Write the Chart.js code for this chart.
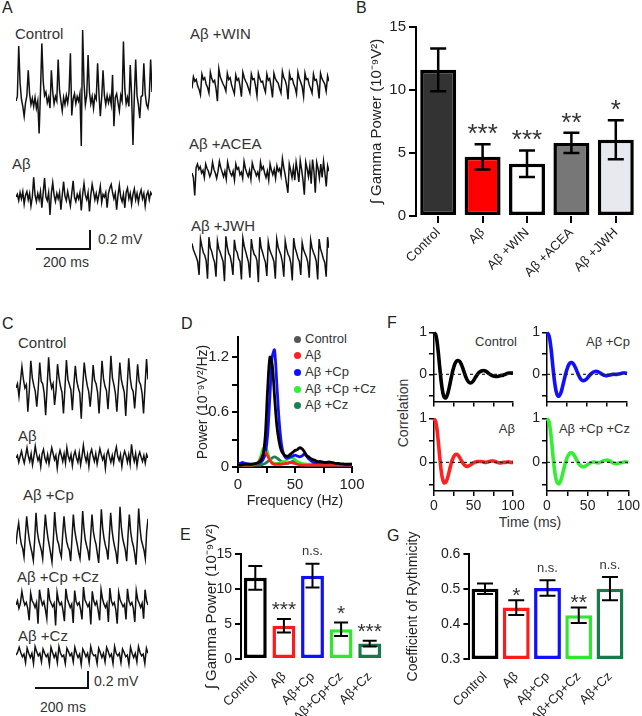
<!DOCTYPE html>
<html><head><meta charset="utf-8">
<script src="https://cdn.jsdelivr.net/npm/chart.js@4.4.1/dist/chart.umd.min.js"></script>
<style>
html,body{margin:0;padding:0;background:#fff}
body{width:642px;height:716px;position:relative;overflow:hidden;font-family:"Liberation Sans",Arial,sans-serif;color:#333}
.t{position:absolute;white-space:nowrap;line-height:1;font-size:15px}
.p{font-size:16px;color:#222}
.s{font-size:14px}
.l{font-size:13px}
canvas{position:absolute}
.bar{position:absolute;background:#111}
.rot{position:absolute;white-space:nowrap;line-height:1;transform:translate(-50%,-50%) rotate(-90deg)}
.dot{position:absolute;width:7px;height:7px;border-radius:50%}
</style></head><body>
<div class="t p" style="left:2px;top:0px">A</div>
<div class="t p" style="left:356px;top:0px">B</div>
<div class="t p" style="left:2px;top:316px">C</div>
<div class="t p" style="left:181px;top:316px">D</div>
<div class="t p" style="left:180px;top:527px">E</div>
<div class="t p" style="left:387px;top:315px">F</div>
<div class="t p" style="left:387px;top:528px">G</div>

<div class="t" style="left:15px;top:26px">Control</div>
<div class="t" style="left:12px;top:156px">Aβ</div>
<div class="t" style="left:190px;top:26px">Aβ +WIN</div>
<div class="t" style="left:189px;top:136px">Aβ +ACEA</div>
<div class="t" style="left:191px;top:218px">Aβ +JWH</div>
<div class="bar" style="left:36px;top:248px;width:55px;height:2px"></div>
<div class="bar" style="left:89px;top:230px;width:2px;height:20px"></div>
<div class="t s" style="left:98px;top:232px">0.2 mV</div>
<div class="t s" style="left:43px;top:255px">200 ms</div>

<div class="t" style="left:18px;top:335px">Control</div>
<div class="t" style="left:18px;top:428px">Aβ</div>
<div class="t" style="left:23px;top:487px">Aβ +Cp</div>
<div class="t" style="left:17px;top:569px">Aβ +Cp +Cz</div>
<div class="t" style="left:18px;top:628px">Aβ +Cz</div>
<div class="bar" style="left:35px;top:687px;width:54px;height:2px"></div>
<div class="bar" style="left:87px;top:671px;width:2px;height:18px"></div>
<div class="t s" style="left:94px;top:674px">0.2 mV</div>
<div class="t s" style="left:40px;top:700px">200 ms</div>

<div id="legend"></div>

<div class="t l" style="right:125px;top:335px">Control</div>
<div class="t l" style="right:12px;top:335px">Aβ +Cp</div>
<div class="t l" style="right:127px;top:422px">Aβ</div>
<div class="t l" style="right:12px;top:422px">Aβ +Cp +Cz</div>
<div class="rot" style="left:403px;top:413px;font-size:14px">Correlation</div>
<div class="t s" style="left:530px;top:515px;transform:translateX(-50%)">Time (ms)</div>

<script>
// ---------------- DATA ----------------
// Panel A traces (mV, 500 ms sweeps)
const aControl = [0.0,0.05,0.61,0.2,0.02,-0.06,-0.17,-0.02,0.06,0.34,0.08,-0.04,0.03,-0.06,0.04,-0.08,0.0,-0.36,0.1,0.64,0.22,0.06,0.1,-0.02,0.04,-0.08,0.34,0.1,-0.03,0.05,0.0,0.46,0.12,0.0,-0.11,0.04,-0.04,0.06,-0.02,0.1,0.53,-0.16,0.02,0.08,-0.03,0.05,0.0,0.08,-0.5,0.79,0.2,-0.04,0.06,0.51,0.1,-0.03,0.05,-0.08,0.06,0.02,0.42,0.08,-0.17,0.04,0.34,0.06,-0.04,0.06,-0.02,0.05,-0.04,0.29,-0.28,0.04,0.08,-0.02,-0.11,0.06,0.0,0.66,0.14,-0.03,0.04,-0.06,0.4,0.06,-0.49,0.05,0.46,0.06,-0.04,-0.19,0.05,0.06,0.42,0.08,-0.04,-0.08,0.05,0.46,0.1];
const aAb = [0.0,0.03,-0.04,0.05,-0.02,0.06,-0.08,0.02,0.06,-0.03,0.04,-0.1,0.0,0.22,0.02,-0.05,0.04,-0.03,0.06,-0.12,0.05,0.21,0.0,-0.04,0.05,-0.2,0.04,0.16,0.02,-0.05,0.04,-0.02,0.05,-0.14,0.02,0.17,0.01,-0.04,0.06,-0.02,-0.1,0.04,0.18,0.0,-0.05,0.03,-0.02,0.05,-0.15,0.03,0.15,0.02,-0.03,0.05,-0.16,0.02,0.14,0.06,-0.03,0.04,-0.05,0.03,0.12,-0.06,0.03,0.0,0.05,-0.12,0.04,0.1,0.14,0.05,-0.02,0.04,-0.14,0.02,0.13,0.0,-0.05,0.03,-0.12,0.05,0.1,-0.02,0.04,-0.08,0.03,0.09,-0.03,0.04,-0.06,0.03,0.08,-0.02,0.04,-0.1,0.02,0.06,-0.03,0.05,0.02];
const aWin = [-0.05,0.08,0.03,0.05,-0.02,-0.06,-0.12,0.11,0.05,0.07,0.0,-0.04,-0.1,0.13,0.06,0.02,0.04,-0.05,-0.19,0.17,0.08,0.04,0.0,-0.03,-0.08,0.12,0.05,0.07,-0.01,-0.06,-0.11,0.1,0.04,0.06,-0.02,-0.14,0.13,0.07,0.03,0.0,-0.05,-0.1,0.11,0.05,0.06,-0.02,-0.13,0.12,0.06,0.02,0.03,-0.04,-0.09,0.11,0.04,0.06,-0.03,-0.15,0.12,0.06,0.03,0.01,-0.05,-0.1,0.14,0.07,0.04,-0.02,-0.17,0.12,0.05,0.06,0.0,-0.04,-0.11,0.13,0.06,0.02,-0.03,-0.14,0.12,0.05,0.06,-0.01,-0.05,-0.1,0.11,0.04,0.05,-0.02,-0.16,0.12,0.06,0.03,0.0,-0.08,0.09,0.03];
const aAcea = [0.0,-0.05,-0.25,0.06,0.1,0.04,0.07,0.0,0.03,-0.05,0.1,0.05,0.02,-0.04,0.0,0.12,0.04,0.0,-0.06,0.02,0.13,0.06,0.01,-0.04,0.02,-0.07,0.12,0.05,0.0,-0.03,0.02,-0.08,0.1,0.04,0.06,-0.02,0.01,-0.06,0.13,0.05,0.0,-0.04,0.03,-0.07,0.11,0.05,0.02,-0.03,0.01,-0.06,0.12,0.04,0.07,0.0,-0.05,0.02,-0.08,0.1,0.03,-0.02,0.04,-0.06,0.08,0.02,0.05,-0.03,0.16,0.06,-0.02,-0.12,-0.22,0.1,0.03,-0.05,0.06,-0.08,0.12,0.02,-0.1,0.14,0.04,-0.08,-0.24,0.12,0.05,-0.04,0.08,-0.12,0.15,0.02,-0.22,0.12,0.05,-0.06,0.1,-0.05,0.13,0.0,-0.15,0.08,0.02];
const aJwh = [0.15,0.08,0.04,0.0,-0.05,-0.2,0.2,0.12,0.05,0.02,-0.04,-0.24,0.22,0.1,0.06,-0.01,-0.06,-0.22,0.18,0.09,0.05,0.0,-0.05,-0.27,0.23,0.11,0.04,0.01,-0.07,-0.2,0.19,0.08,0.05,-0.02,-0.05,-0.25,0.21,0.12,0.06,0.0,-0.06,-0.23,0.2,0.09,0.03,0.01,-0.04,-0.28,0.22,0.1,0.05,-0.01,-0.06,-0.21,0.17,0.08,0.04,0.0,-0.05,-0.24,0.2,0.11,0.06,0.02,-0.06,-0.22,0.18,0.09,0.03,0.0,-0.07,-0.26,0.21,0.1,0.05,-0.01,-0.05,-0.2,0.16,0.08,0.04,0.0,-0.06,-0.23,0.19,0.1,0.05,0.01,-0.05,-0.25,0.2,0.09,0.04,-0.02,-0.06,-0.22,0.22,0.1];
// Panel C traces (mV)
const cControl = [0.0,0.05,-0.1,0.08,0.25,0.1,0.0,0.04,-0.28,-0.02,0.32,0.12,0.03,-0.04,-0.22,0.0,0.3,0.08,0.05,-0.06,-0.32,0.02,0.36,0.1,0.0,0.05,-0.2,-0.03,0.28,0.12,0.02,-0.05,-0.3,0.0,0.33,0.1,0.04,-0.02,-0.26,0.03,0.26,0.08,0.0,-0.06,-0.36,0.02,0.3,0.14,0.03,-0.04,-0.22,-0.02,0.27,0.09,0.05,-0.05,-0.3,0.0,0.32,0.11,0.02,-0.03,-0.25,0.02,0.38,0.12,0.04,-0.06,-0.28,0.0,0.3,0.1,0.02,-0.05,-0.33,0.03,0.35,0.12,0.0,-0.04,-0.24,0.0,0.28,0.08,0.04,-0.06,-0.3,0.02,0.34,0.1];
const cAb = [0.0,0.03,-0.05,0.02,0.08,0.0,-0.06,0.03,0.12,0.02,-0.04,0.05,-0.08,0.02,0.14,0.04,-0.03,0.02,-0.1,0.05,0.1,0.0,-0.05,0.04,-0.07,0.03,0.12,0.05,-0.02,0.03,-0.12,0.02,0.09,0.03,-0.04,0.05,-0.06,0.12,0.02,-0.03,0.04,-0.09,0.03,0.08,0.0,-0.05,0.06,-0.08,0.02,0.15,0.03,-0.04,0.04,-0.1,0.05,0.1,0.02,-0.04,0.05,-0.07,0.02,0.11,0.04,-0.02,0.03,-0.12,0.04,0.09,0.01,-0.05,0.03,-0.06,0.06,0.13,0.02,-0.03,0.04,-0.1,0.02,0.08,0.03,-0.05,0.04,-0.07,0.16,0.03,-0.04,0.05,-0.09,0.02,0.07,0.01,-0.04,0.03,-0.06,0.04,0.0];
const cCp = [-0.05,0.1,0.2,0.05,-0.05,-0.1,-0.2,0.05,0.28,0.12,0.0,-0.08,-0.15,-0.24,0.0,0.32,0.1,0.0,-0.06,-0.12,-0.22,0.04,0.3,0.14,0.02,-0.07,-0.16,-0.26,0.0,0.33,0.12,0.0,-0.05,-0.14,-0.2,0.06,0.28,0.1,-0.02,-0.08,-0.12,-0.25,0.02,0.3,0.12,0.02,-0.06,-0.15,-0.22,0.0,0.34,0.13,0.0,-0.07,-0.13,-0.24,0.05,0.3,0.1,0.01,-0.05,-0.16,-0.27,0.0,0.36,0.14,0.02,-0.06,-0.12,-0.23,0.04,0.32,0.12,0.0,-0.08,-0.15,-0.28,0.0,0.39,0.15,0.02,-0.05,-0.12,-0.25,0.05,0.3,0.1,-0.01,-0.07,-0.16,-0.29,0.0,0.37,0.14,0.0,-0.06,-0.12,-0.22,0.1,0.25];
const cCpCz = [0.0,0.05,-0.04,0.02,0.16,0.06,0.0,0.03,-0.04,-0.18,0.14,0.05,0.02,-0.03,0.03,-0.22,0.18,0.07,0.0,0.04,-0.05,-0.16,0.2,0.06,0.02,-0.02,0.02,-0.24,0.15,0.05,0.0,0.03,-0.06,-0.19,0.19,0.07,0.02,-0.03,0.01,-0.21,0.17,0.04,0.0,0.03,-0.05,-0.17,0.21,0.06,0.02,-0.02,0.02,-0.23,0.16,0.05,0.0,0.04,-0.06,-0.18,0.18,0.07,0.01,-0.03,0.02,-0.2,0.2,0.05,0.0,0.03,-0.05,-0.22,0.15,0.06,0.02,-0.02,0.01,-0.17,0.19,0.05,0.0,0.03,-0.04,-0.2,0.17,0.06,0.02,-0.03,0.02,-0.16,0.18,0.05,0.0];
const cCz = [0.0,0.03,0.09,0.03,-0.02,0.01,-0.09,0.08,0.02,-0.03,0.02,-0.1,0.1,0.04,-0.01,0.02,-0.08,0.07,0.02,-0.02,0.01,-0.11,0.09,0.03,-0.03,0.02,-0.09,0.1,0.02,-0.02,0.0,-0.1,0.08,0.04,-0.01,0.02,-0.08,0.09,0.02,-0.03,0.01,-0.11,0.07,0.03,-0.02,0.02,-0.09,0.1,0.02,-0.01,0.0,-0.1,0.08,0.03,-0.03,0.02,-0.08,0.09,0.04,-0.02,0.01,-0.1,0.1,0.02,-0.01,0.02,-0.09,0.07,0.03,-0.02,0.0,-0.11,0.09,0.02,-0.03,0.02,-0.08,0.1,0.03,-0.01,0.01,-0.1,0.08,0.02];

// Panel B
const bCategories = ['Control','Aβ','Aβ +WIN','Aβ +ACEA','Aβ +JWH'];
const bMeans = [11.6, 4.7, 4.15, 5.8, 6.05];
const bSem = [1.7, 1.0, 1.05, 0.8, 1.55];
const bMarks = ['', '***', '***', '**', '*'];

// Panel D (power spectra, 0-100 Hz, 2 Hz bins)
const dSeriesNames = ['Control','Aβ','Aβ +Cp','Aβ +Cp +Cz','Aβ +Cz'];
const dControl = [0.02,0.02,0.025,0.03,0.03,0.03,0.03,0.035,0.04,0.05,0.07,0.13,0.35,0.85,1.2,1.12,0.78,0.46,0.28,0.18,0.14,0.12,0.12,0.14,0.16,0.18,0.19,0.21,0.2,0.17,0.13,0.11,0.09,0.08,0.07,0.06,0.06,0.055,0.05,0.05,0.055,0.05,0.045,0.04,0.04,0.035,0.035,0.03,0.03,0.03,0.03];
const dAb = [0.02,0.02,0.02,0.02,0.02,0.02,0.02,0.025,0.03,0.05,0.09,0.14,0.16,0.12,0.07,0.04,0.03,0.03,0.03,0.03,0.035,0.04,0.045,0.05,0.045,0.04,0.03,0.025,0.02,0.02,0.02,0.02,0.02,0.02,0.02,0.02,0.02,0.02,0.02,0.02,0.02,0.02,0.02,0.02,0.02,0.02,0.02,0.02,0.02,0.02,0.02];
const dCp = [0.03,0.04,0.05,0.04,0.035,0.03,0.03,0.03,0.035,0.04,0.05,0.08,0.15,0.35,0.78,1.2,1.28,0.92,0.52,0.26,0.14,0.1,0.1,0.11,0.12,0.13,0.12,0.11,0.12,0.14,0.12,0.09,0.07,0.05,0.04,0.04,0.035,0.03,0.03,0.03,0.03,0.025,0.025,0.025,0.02,0.02,0.02,0.02,0.02,0.02,0.02];
const dCpCz = [0.02,0.02,0.02,0.02,0.02,0.02,0.02,0.025,0.035,0.06,0.12,0.2,0.22,0.16,0.08,0.05,0.04,0.04,0.04,0.05,0.06,0.07,0.09,0.1,0.1,0.08,0.06,0.05,0.04,0.035,0.03,0.03,0.03,0.03,0.03,0.03,0.03,0.03,0.03,0.03,0.03,0.03,0.03,0.03,0.03,0.03,0.03,0.03,0.03,0.03,0.03];
const dCz = [0.02,0.02,0.02,0.02,0.02,0.02,0.02,0.02,0.02,0.02,0.02,0.03,0.04,0.06,0.08,0.1,0.11,0.1,0.08,0.06,0.045,0.04,0.04,0.05,0.06,0.055,0.045,0.035,0.03,0.025,0.02,0.02,0.02,0.02,0.02,0.02,0.02,0.02,0.02,0.02,0.02,0.02,0.02,0.02,0.02,0.02,0.02,0.02,0.02,0.02,0.02];

// Panel E
const eCategories = ['Control','Aβ','Aβ+Cp','Aβ+Cp+Cz','Aβ+Cz'];
const eMeans = [11.6, 4.75, 11.9, 4.25, 2.2];
const eSem = [1.7, 0.95, 1.7, 0.95, 0.4];
const eMarks = ['', '***', 'n.s.', '*', '***'];

// Panel F (autocorrelation, 0-100 ms, 2.5 ms lags)
const fControl = [1.0,0.93,0.6,0.12,-0.3,-0.53,-0.56,-0.45,-0.25,-0.02,0.17,0.29,0.33,0.31,0.22,0.09,-0.05,-0.15,-0.2,-0.2,-0.15,-0.07,0.0,0.05,0.08,0.09,0.08,0.05,0.01,-0.02,-0.04,-0.05,-0.05,-0.04,-0.03,-0.02,0.0,0.02,0.03,0.03,0.03];
const fAb = [1.0,0.9,0.55,0.08,-0.3,-0.46,-0.45,-0.33,-0.15,0.02,0.13,0.18,0.17,0.11,0.03,-0.04,-0.08,-0.09,-0.07,-0.04,-0.01,0.01,0.02,0.02,0.02,0.01,0.0,0.01,0.02,0.03,0.03,0.02,0.0,-0.01,-0.01,0.0,0.0,0.01,0.01,0.0,0.0];
const fCp = [1.0,0.92,0.62,0.15,-0.25,-0.48,-0.52,-0.43,-0.25,-0.05,0.12,0.24,0.28,0.26,0.18,0.07,-0.04,-0.12,-0.15,-0.14,-0.1,-0.04,0.01,0.05,0.07,0.07,0.05,0.02,-0.01,-0.03,-0.03,-0.02,-0.01,0.0,0.0,0.0,0.01,0.02,0.03,0.03,0.02];
const fCpCz = [1.0,0.92,0.6,0.12,-0.27,-0.46,-0.48,-0.38,-0.2,-0.02,0.12,0.2,0.22,0.19,0.11,0.02,-0.05,-0.09,-0.1,-0.08,-0.05,-0.02,0.0,0.01,0.0,-0.01,0.0,0.02,0.04,0.05,0.05,0.03,0.0,-0.02,-0.03,-0.02,-0.01,0.0,0.01,0.01,0.0];

// Panel G
const gCategories = ['Control','Aβ','Aβ+Cp','Aβ+Cp+Cz','Aβ+Cz'];
const gMeans = [0.501, 0.447, 0.503, 0.425, 0.501];
const gSem = [0.015, 0.021, 0.022, 0.022, 0.033];
const gMarks = ['', '*', 'n.s.', '**', 'n.s.'];

// ---------------- DRAWING ----------------
const FF = '"Liberation Sans", Arial, sans-serif';
const TXT = '#222';
Chart.defaults.font.family = FF;
Chart.defaults.color = TXT;

function addCanvas(l, t, w, h) {
  const c = document.createElement('canvas');
  c.width = w; c.height = h;
  c.style.left = l + 'px'; c.style.top = t + 'px';
  c.style.width = w + 'px'; c.style.height = h + 'px';
  document.body.appendChild(c);
  return c;
}

function makeChart(l, t, w, h, cfg, area) {
  const c = addCanvas(l, t, w, h);
  const pad = {left: 0, right: 0, top: 0, bottom: 0};
  cfg.options = Object.assign({responsive: false, maintainAspectRatio: false, animation: false, events: [], devicePixelRatio: 1}, cfg.options || {});
  cfg.options.layout = {padding: Object.assign({}, pad)};
  cfg.options.plugins = Object.assign({legend: {display: false}, tooltip: {enabled: false}}, cfg.options.plugins || {});
  const ch = new Chart(c.getContext('2d'), cfg);
  if (area) {
    for (let k = 0; k < 4; k++) {
      const ca = ch.chartArea;
      pad.left += (area.l - l) - ca.left;
      pad.top += (area.t - t) - ca.top;
      pad.right += ca.right - (area.r - l);
      pad.bottom += ca.bottom - (area.b - t);
      ch.options.layout.padding = Object.assign({}, pad);
      ch.update('none');
    }
  }
  return ch;
}

function trace(values, left, right, baseline, pxPerMv) {
  const w = right - left, h = 160;
  const dt = 500 / (values.length - 1);
  makeChart(left, baseline - h / 2, w, h, {
    type: 'line',
    data: {datasets: [{data: values.map((v, i) => ({x: i * dt, y: v})), borderColor: '#111', borderWidth: 1.5, pointRadius: 0, tension: 0, clip: false}]},
    options: {scales: {
      x: {type: 'linear', min: 0, max: 500, display: false},
      y: {min: -h / 2 / pxPerMv, max: h / 2 / pxPerMv, display: false}
    }}
  });
}

trace(aControl, 16, 152, 101, 90);
trace(aAb, 16, 152, 197, 90);
trace(aWin, 192, 329, 84, 90);
trace(aAcea, 192, 329, 173, 90);
trace(aJwh, 192, 329, 257, 90);
trace(cControl, 16, 148, 388, 85);
trace(cAb, 16, 148, 458, 85);
trace(cCp, 16, 148, 540, 85);
trace(cCpCz, 16, 148, 605, 85);
trace(cCz, 16, 148, 655, 85);

function errPlugin(means, sem, marks, st) {
  return {
    id: 'err',
    afterDatasetsDraw(chart) {
      const ctx = chart.ctx, meta = chart.getDatasetMeta(0), y = chart.scales.y;
      ctx.save();
      means.forEach((m, i) => {
        const x = meta.data[i].x;
        const hi = y.getPixelForValue(m + sem[i]), lo = y.getPixelForValue(m - sem[i]);
        ctx.strokeStyle = '#000'; ctx.lineWidth = st.lw; ctx.lineCap = 'butt';
        ctx.beginPath();
        ctx.moveTo(x, hi); ctx.lineTo(x, lo);
        ctx.moveTo(x - st.cap, hi); ctx.lineTo(x + st.cap, hi);
        ctx.moveTo(x - st.cap, lo); ctx.lineTo(x + st.cap, lo);
        ctx.stroke();
        const mk = marks[i];
        if (mk) {
          ctx.fillStyle = '#333'; ctx.textAlign = 'center'; ctx.textBaseline = 'alphabetic';
          if (mk.indexOf('*') >= 0) {
            ctx.font = st.starSize + 'px ' + FF;
            ctx.fillText(mk, x, hi - st.starGap + 0.57 * st.starSize);
          } else {
            ctx.font = st.nsSize + 'px ' + FF;
            ctx.fillText(mk, x, hi - st.nsGap + 0.26 * st.nsSize);
          }
        }
      });
      ctx.restore();
    }
  };
}

function yTitle(text, size, centerX, areaLeft, axisW) {
  return {display: true, text: text, color: TXT, font: {size: size, family: FF},
    padding: {top: centerX - (areaLeft - axisW) - size * 0.6, bottom: 0}};
}

// ---- Panel B ----
const bFill = ['#333333', '#ff0000', '#ffffff', '#777777', '#e8e9ee'];
makeChart(330, 0, 312, 320, {
  type: 'bar',
  data: {labels: bCategories, datasets: [{data: bMeans, backgroundColor: bFill, borderColor: '#000', borderWidth: 3.5, borderSkipped: false, barPercentage: 0.81, categoryPercentage: 1}]},
  options: {scales: {
    x: {grid: {display: true, drawOnChartArea: false, offset: false, color: '#000', lineWidth: 2, tickLength: 7}, border: {display: false},
        ticks: {font: {size: 13}, minRotation: 45, maxRotation: 45, autoSkip: false, padding: 2}, afterFit: s => { s.height = 90; }},
    y: {min: 0, max: 15, ticks: {stepSize: 5, font: {size: 15}, padding: 3},
        grid: {drawOnChartArea: false, color: '#000', lineWidth: 2, tickLength: 7}, border: {display: true, color: '#000', width: 2},
        title: yTitle('∫ Gamma Power (10⁻⁹V²)', 15, 377, 416, 60), afterFit: s => { s.width = 60; }}
  }},
  plugins: [errPlugin(bMeans, bSem, bMarks, {lw: 2.5, cap: 8, starSize: 26, starGap: 17, nsSize: 13, nsGap: 12})]
}, {l: 416, r: 638, t: 27, b: 216});

// ---- Panel D ----
const dColors = ['#000000', '#ff2020', '#1010ff', '#33ee33', '#1e8050'];
const dLegendColors = ['#555555', '#ff2020', '#1010ff', '#33ee33', '#1e8050'];
const dAll = [dControl, dAb, dCp, dCpCz, dCz];
makeChart(180, 325, 200, 195, {
  type: 'line',
  data: {datasets: dAll.map((arr, k) => ({label: dSeriesNames[k], data: arr.map((v, i) => ({x: i * 2, y: v})), borderColor: dColors[k], borderWidth: 2.8, pointRadius: 0, tension: 0.3, clip: false}))},
  options: {scales: {
    x: {type: 'linear', min: 0, max: 100, ticks: {stepSize: 25, font: {size: 15}, padding: 3, maxRotation: 0, autoSkip: false, callback: v => (v % 50 === 0 ? v : '')},
        grid: {drawOnChartArea: false, color: '#000', lineWidth: 2, tickLength: 6}, border: {color: '#000', width: 2},
        title: {display: true, text: 'Frequency (Hz)', color: TXT, font: {size: 14}, padding: {top: 0, bottom: 2}}, afterFit: s => { s.height = 45; }},
    y: {min: 0, max: 1.42, ticks: {stepSize: 0.3, includeBounds: false, font: {size: 15}, padding: 3,
          callback: v => { const r = Math.round(v * 10) / 10; return (r === 0 || r === 0.6 || r === 1.2) ? String(r) : ''; }},
        grid: {drawOnChartArea: false, color: '#000', lineWidth: 2, tickLength: 6}, border: {color: '#000', width: 2},
        title: yTitle('Power (10⁻⁹V²/Hz)', 14, 203, 238, 45), afterFit: s => { s.width = 45; }}
  }}
}, {l: 238, r: 352, t: 337, b: 467});

// D legend (HTML)
(function () {
  const lg = document.getElementById('legend');
  const ys = [339, 355, 372, 389, 405];
  dSeriesNames.forEach((n, k) => {
    const d = document.createElement('div'); d.className = 'dot';
    d.style.left = '294px'; d.style.top = (ys[k] - 3.5) + 'px'; d.style.background = dLegendColors[k];
    lg.appendChild(d);
    const t = document.createElement('div'); t.className = 't l';
    t.style.left = '305px'; t.style.top = (ys[k] - 7) + 'px'; t.textContent = n; t.style.color = '#333';
    lg.appendChild(t);
  });
})();

// ---- Panel E ----
const eColors = ['#000000', '#ff1a1a', '#1010ff', '#2de82d', '#18794a'];
makeChart(180, 520, 215, 196, {
  type: 'bar',
  data: {labels: eCategories, datasets: [{data: eMeans, backgroundColor: '#ffffff', borderColor: eColors, borderWidth: 3.5, borderSkipped: false, barPercentage: 0.8, categoryPercentage: 1}]},
  options: {scales: {
    x: {grid: {display: false}, border: {display: false},
        ticks: {font: {size: 13}, minRotation: 45, maxRotation: 45, autoSkip: false, padding: 2}, afterFit: s => { s.height = 57; }},
    y: {min: 0, max: 15, ticks: {stepSize: 5, font: {size: 14}, padding: 3},
        grid: {drawOnChartArea: false, color: '#000', lineWidth: 2, tickLength: 6}, border: {display: true, color: '#000', width: 2},
        title: yTitle('∫ Gamma Power (10⁻⁹V²)', 15, 212, 241, 45), afterFit: s => { s.width = 45; }}
  }},
  plugins: [errPlugin(eMeans, eSem, eMarks, {lw: 2, cap: 7, starSize: 21, starGap: 15, nsSize: 13, nsGap: 12})]
}, {l: 241, r: 384, t: 554, b: 659});

// ---- Panel G ----
const gColors = ['#000000', '#ff1a1a', '#1010ff', '#2de82d', '#18794a'];
const gAxisMin = 0.3;
makeChart(390, 520, 252, 196, {
  type: 'bar',
  data: {labels: gCategories, datasets: [{data: gMeans.map(v => [gAxisMin, v]), backgroundColor: '#ffffff', borderColor: gColors, borderWidth: 3.5, borderSkipped: false, barPercentage: 0.86, categoryPercentage: 1}]},
  options: {scales: {
    x: {grid: {display: false}, border: {display: false},
        ticks: {font: {size: 13}, minRotation: 45, maxRotation: 45, autoSkip: false, padding: 2}, afterFit: s => { s.height = 57; }},
    y: {min: 0.3, max: 0.6, ticks: {stepSize: 0.1, font: {size: 14}, padding: 3, callback: v => v.toFixed(1)},
        grid: {drawOnChartArea: false, color: '#000', lineWidth: 2, tickLength: 6}, border: {display: true, color: '#000', width: 2},
        title: yTitle('Coefficient of Rythmicity', 14, 413, 469.4, 70), afterFit: s => { s.width = 70; }}
  }},
  plugins: [errPlugin(gMeans, gSem, gMarks, {lw: 2, cap: 8, starSize: 21, starGap: 10.5, nsSize: 13, nsGap: 11.5})]
}, {l: 469.4, r: 625.6, t: 554, b: 659});

// ---- Panel F ----
function corrPlot(values, color, l, t, w, h, area, showX) {
  const dt = 100 / (values.length - 1);
  makeChart(l, t, w, h, {
    type: 'line',
    data: {datasets: [
      {data: [{x: 0, y: 0}, {x: 100, y: 0}], borderColor: '#222', borderWidth: 1.2, borderDash: [3, 3], pointRadius: 0},
      {data: values.map((v, i) => ({x: i * dt, y: v})), borderColor: color, borderWidth: 3.6, pointRadius: 0, tension: 0.4, clip: false}
    ]},
    options: {scales: {
      x: {type: 'linear', min: 0, max: 100,
          ticks: {display: showX, stepSize: 25, font: {size: 14}, padding: 2, maxRotation: 0, autoSkip: false, callback: v => (v % 50 === 0 ? v : '')},
          grid: {drawOnChartArea: false, color: '#000', lineWidth: 1.5, tickLength: 5}, border: {color: '#000', width: 1.5},
          afterFit: s => { s.height = showX ? 25 : 8; }},
      y: {min: -0.65, max: 1, ticks: {stepSize: 0.5, includeBounds: false, font: {size: 14}, padding: 2,
            callback: v => (Math.abs(v) < 1e-9 ? '0' : (Math.abs(v - 1) < 1e-9 ? '1' : ''))},
          grid: {drawOnChartArea: false, color: '#000', lineWidth: 1.5, tickLength: 5}, border: {color: '#000', width: 1.5},
          afterFit: s => { s.width = 22; }}
    }}
  }, area);
}
corrPlot(fControl, '#000000', 405, 322, 118, 90, {l: 434, r: 513, t: 332, b: 405}, false);
corrPlot(fCp, '#1010ff', 518, 322, 124, 90, {l: 547, r: 627, t: 332, b: 405}, false);
corrPlot(fAb, '#ff2020', 405, 408, 130, 108, {l: 434, r: 513, t: 418, b: 491}, true);
corrPlot(fCpCz, '#33ee33', 518, 408, 124, 108, {l: 547, r: 627, t: 418, b: 491}, true);
</script>
</body></html>
